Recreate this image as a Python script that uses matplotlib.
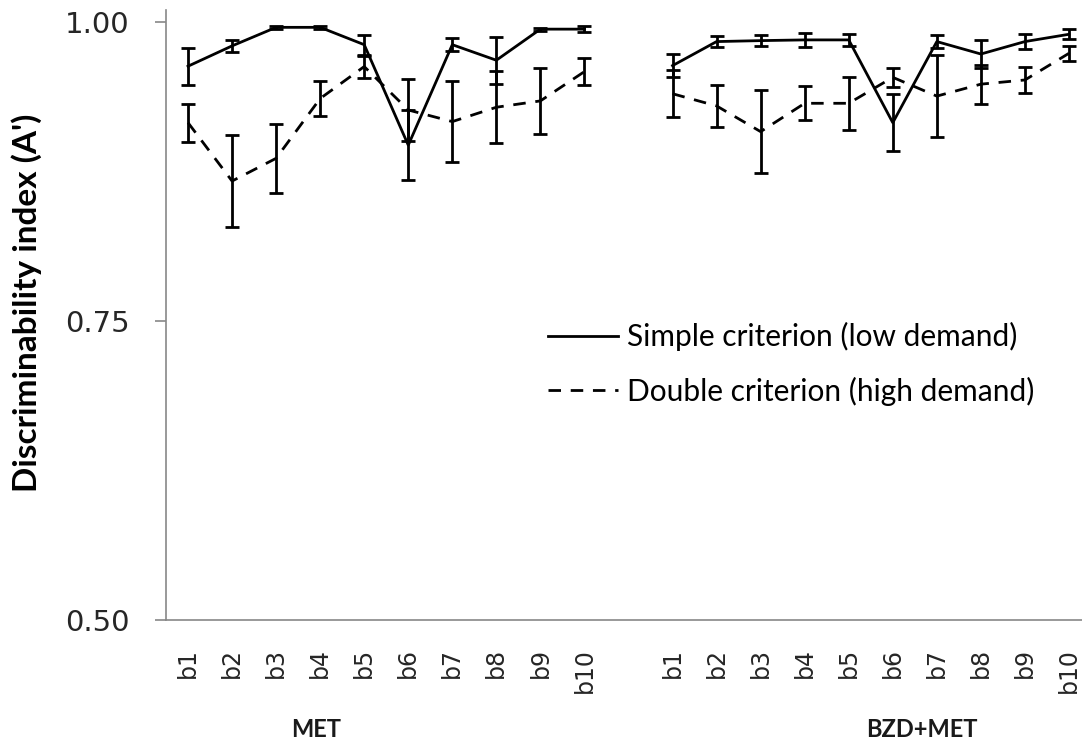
import numpy as np
import matplotlib.pyplot as plt
from matplotlib.lines import Line2D

# 블록 이름과 그룹
blocks = ['b1', 'b2', 'b3', 'b4', 'b5', 'b6', 'b7', 'b8', 'b9', 'b10']
groups = ['MET', 'BZD+MET']

# 단순 기준 (low demand) - 평균, 오차
simple_met = [0.963, 0.980, 0.9955, 0.9955, 0.981, 0.897, 0.981, 0.968, 0.994, 0.994]
simple_met_err = [0.0156, 0.005, 0.0013, 0.0013, 0.0084, 0.029, 0.0054, 0.0198, 0.0013, 0.0025]
simple_bzd = [0.9635, 0.9836, 0.9844, 0.985, 0.985, 0.9158, 0.9836, 0.9732, 0.9836, 0.9897]
simple_bzd_err = [0.0098, 0.0045, 0.0049, 0.0059, 0.005, 0.024, 0.0053, 0.0116, 0.006, 0.0043]

# 이중 기준 (high demand)
double_met = [0.9158, 0.867, 0.886, 0.936, 0.9627, 0.9264, 0.9167, 0.9287, 0.934, 0.9585]
double_met_err = [0.016, 0.0386, 0.029, 0.0146, 0.0092, 0.026, 0.034, 0.030, 0.0274, 0.011]
double_bzd = [0.940, 0.9298, 0.9083, 0.932, 0.932, 0.9537, 0.938, 0.948, 0.9515, 0.9738]
double_bzd_err = [0.0198, 0.0174, 0.0346, 0.0143, 0.0223, 0.008, 0.034, 0.0163, 0.011, 0.0063]

W, H = 1082, 742
fig = plt.figure(figsize=(W / 100, H / 100), dpi=100)
ax = fig.add_axes([166 / W, 122 / H, 925 / W, 610 / H])

x_met = np.arange(10)
x_bzd = np.arange(11, 21)
dash = (0, (4.5, 3.5))

for xs, s, se, d, de in [(x_met, simple_met, simple_met_err, double_met, double_met_err),
                         (x_bzd, simple_bzd, simple_bzd_err, double_bzd, double_bzd_err)]:
    ax.errorbar(xs, d, yerr=de, color='black', lw=2, ls=dash, elinewidth=2,
                capsize=5, capthick=2)
    ax.errorbar(xs, s, yerr=se, color='black', lw=2, ls='-', elinewidth=2,
                capsize=5, capthick=2)

ax.set_xlim(-0.5, 20.5)
ax.set_ylim(0.5, 1.01)
ax.set_yticks([0.5, 0.75, 1.0])
ax.set_yticklabels(['0.50', '0.75', '1.00'])
ax.set_xticks(list(x_met) + list(x_bzd))
ax.set_xticklabels(blocks + blocks, rotation=90, va='top')

for sp in ['top', 'right']:
    ax.spines[sp].set_visible(False)
for sp in ['left', 'bottom']:
    ax.spines[sp].set_color('#888888')
    ax.spines[sp].set_linewidth(1.2)

ax.tick_params(axis='y', length=8, width=1.2, color='#888888', pad=18,
               labelsize=21, labelcolor='#262626')
ax.tick_params(axis='x', length=0, pad=20, labelsize=17, labelcolor='#262626')

# 그룹 레이블
ax.text(2.9, 0.5 - 109 / 1196, groups[0], ha='center', va='center',
        fontsize=17, fontweight='bold', family='Lato', color='#1a1a1a')
ax.text(16.66, 0.5 - 109 / 1196, groups[1], ha='center', va='center',
        fontsize=17, fontweight='bold', family='Lato', color='#1a1a1a')

fig.text(27 / W, 1 - 303 / H, "Discriminability index (A')", rotation=90,
         ha='center', va='center', fontsize=24, fontweight='bold', family='Lato')

handles = [Line2D([], [], color='black', lw=2, ls='-'),
           Line2D([], [], color='black', lw=2, ls=dash)]
fig.legend(handles, ['Simple criterion (low demand)', 'Double criterion (high demand)'],
           loc='center left', bbox_to_anchor=(548 / W, 1 - 364 / H),
           frameon=False, prop={'family': 'Lato', 'size': 21.5},
           handlelength=2.35, handletextpad=0.3, labelspacing=0.85,
           borderpad=0, borderaxespad=0)

plt.savefig('out.png', dpi=100)
